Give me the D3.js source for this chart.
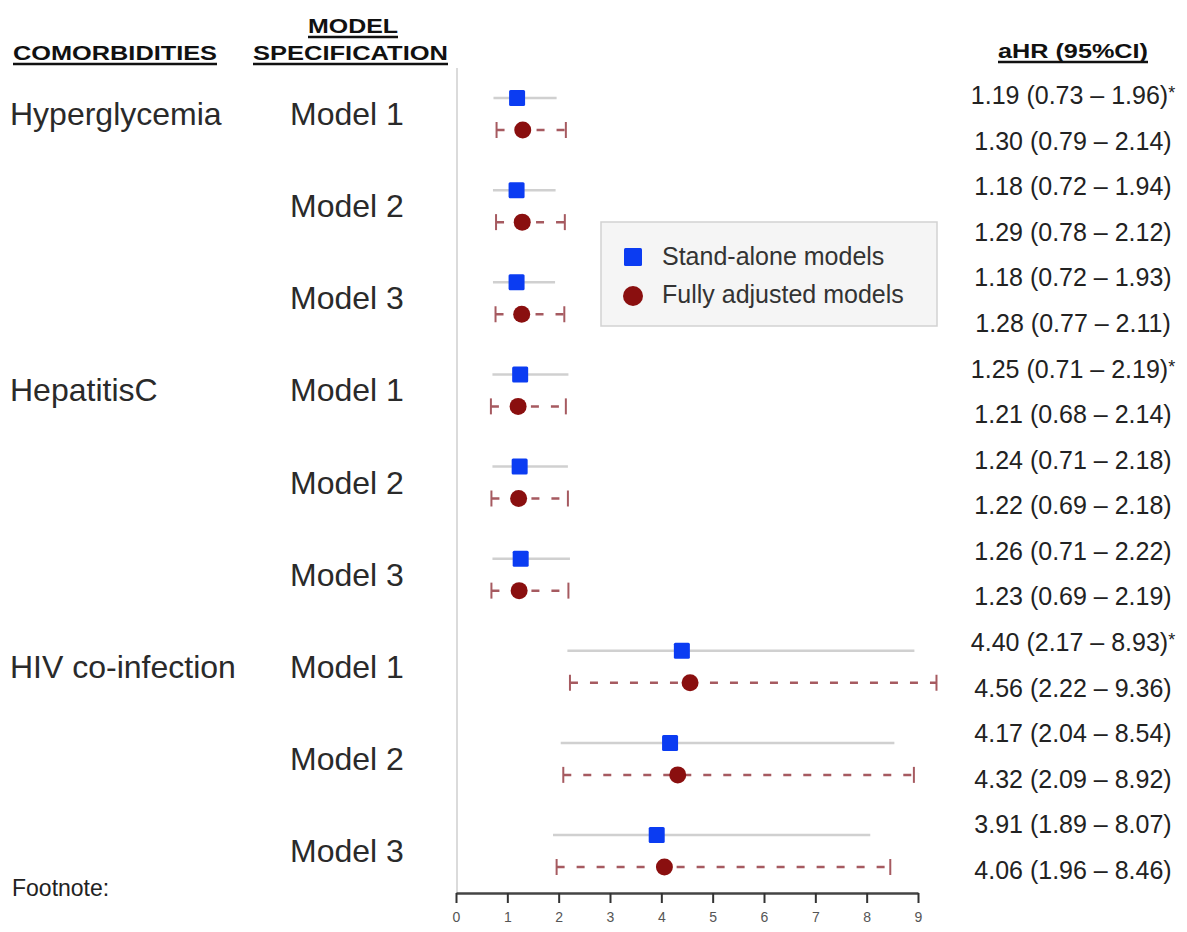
<!DOCTYPE html>
<html>
<head>
<meta charset="utf-8">
<script src="https://cdn.jsdelivr.net/npm/d3@7"></script>
<style>
  body { margin: 0; background: #fff; }
  svg { font-family: "Liberation Sans", Arial, sans-serif; }
</style>
</head>
<body>
<div id="chart"></div>
<script>
// data
var comorbidities = ["Hyperglycemia", "HepatitisC", "HIV co-infection"];
var models = ["Model 1", "Model 2", "Model 3"];

// stand-alone models
var saHR = [1.19, 1.18, 1.18, 1.25, 1.24, 1.26, 4.40, 4.17, 3.91];
var saLo = [0.73, 0.72, 0.72, 0.71, 0.71, 0.71, 2.17, 2.04, 1.89];
var saHi = [1.96, 1.94, 1.93, 2.19, 2.18, 2.22, 8.93, 8.54, 8.07];
var saStar = [true, false, false, true, false, false, true, false, false];

// fully adjusted models
var faHR = [1.30, 1.29, 1.28, 1.21, 1.22, 1.23, 4.56, 4.32, 4.06];
var faLo = [0.79, 0.78, 0.77, 0.68, 0.69, 0.69, 2.22, 2.09, 1.96];
var faHi = [2.14, 2.12, 2.11, 2.14, 2.18, 2.19, 9.36, 8.92, 8.46];

var xTicks = [0, 1, 2, 3, 4, 5, 6, 7, 8, 9];
var legendLabels = ["Stand-alone models", "Fully adjusted models"];

var W = 1187, H = 932;
var blue = "#0b3cf2", red = "#8a0f0f", redLine = "#a65a60", grayLine = "#d0d0d0";

var svg = d3.select("#chart").append("svg")
    .attr("width", W)
    .attr("height", H);

// build rows
var rows = [];
comorbidities.forEach(function (c, ci) {
    models.forEach(function (m, mi) {
        var i = ci * 3 + mi;
        rows.push({ comorb: c, model: m, first: mi === 0, idx: i,
            sa: { hr: saHR[i], lo: saLo[i], hi: saHi[i], star: saStar[i] },
            fa: { hr: faHR[i], lo: faLo[i], hi: faHi[i] } });
    });
});

var x = d3.scaleLinear().domain([0, 9]).range([456, 918]);
var y = d3.scalePoint().domain(d3.range(rows.length)).range([114, 851]);
var off = 16;

// text rows on the right are evenly spaced on their own
var lines = [];
rows.forEach(function (r) {
    lines.push({ v: r.sa, star: r.sa.star });
    lines.push({ v: r.fa, star: false });
});
var yText = d3.scalePoint().domain(d3.range(lines.length)).range([95, 870]);

// headers
function header(txt, xx, yy, len) {
    svg.append("text")
        .attr("x", xx).attr("y", yy)
        .attr("font-size", 21).attr("font-weight", "bold")
        .attr("fill", "#111")
        .attr("textLength", len).attr("lengthAdjust", "spacingAndGlyphs")
        .text(txt);
    svg.append("line")
        .attr("x1", xx).attr("x2", xx + len)
        .attr("y1", yy + 4).attr("y2", yy + 4)
        .attr("stroke", "#111").attr("stroke-width", 2.5);
}
header("COMORBIDITIES", 13, 60, 204);
header("MODEL", 308, 33, 90);
header("SPECIFICATION", 253, 60, 195);
header("aHR (95%CI)", 998, 58, 150);

// vertical reference line
svg.append("line")
    .attr("x1", x(0) + 1).attr("x2", x(0) + 1)
    .attr("y1", 68).attr("y2", 893)
    .attr("stroke", "#cfcfcf").attr("stroke-width", 1.5);

// left labels
svg.selectAll(".comorb")
    .data(rows.filter(function (r) { return r.first; }))
    .enter().append("text")
    .attr("class", "comorb")
    .attr("x", 10)
    .attr("y", function (d) { return y(d.idx) + 11; })
    .attr("font-size", 32).attr("fill", "#2a2a2a")
    .text(function (d) { return d.comorb; });

svg.selectAll(".model")
    .data(rows)
    .enter().append("text")
    .attr("class", "model")
    .attr("x", 290)
    .attr("y", function (d) { return y(d.idx) + 11; })
    .attr("font-size", 32).attr("fill", "#2a2a2a")
    .text(function (d) { return d.model; });

// stand-alone CI lines
svg.selectAll(".saci")
    .data(rows)
    .enter().append("line")
    .attr("class", "saci")
    .attr("x1", function (d) { return x(d.sa.lo); })
    .attr("x2", function (d) { return x(d.sa.hi); })
    .attr("y1", function (d) { return y(d.idx) - off; })
    .attr("y2", function (d) { return y(d.idx) - off; })
    .attr("stroke", grayLine).attr("stroke-width", 2.5);

// fully adjusted CI (dashed with caps)
var fa = svg.selectAll(".faci")
    .data(rows)
    .enter().append("g")
    .attr("class", "faci");
fa.append("line")
    .attr("x1", function (d) { return x(d.fa.lo); })
    .attr("x2", function (d) { return x(d.fa.hi); })
    .attr("y1", function (d) { return y(d.idx) + off; })
    .attr("y2", function (d) { return y(d.idx) + off; })
    .attr("stroke", redLine).attr("stroke-width", 2.5)
    .attr("stroke-dasharray", "8,12");
["lo", "hi"].forEach(function (k) {
    fa.append("line")
        .attr("x1", function (d) { return x(d.fa[k]); })
        .attr("x2", function (d) { return x(d.fa[k]); })
        .attr("y1", function (d) { return y(d.idx) + off - 8; })
        .attr("y2", function (d) { return y(d.idx) + off + 8; })
        .attr("stroke", redLine).attr("stroke-width", 2);
});

// points
svg.selectAll(".sapt")
    .data(rows)
    .enter().append("rect")
    .attr("class", "sapt")
    .attr("x", function (d) { return x(d.sa.hr) - 8; })
    .attr("y", function (d) { return y(d.idx) - off - 8; })
    .attr("width", 16).attr("height", 16)
    .attr("rx", 1.5)
    .attr("fill", blue);

svg.selectAll(".fapt")
    .data(rows)
    .enter().append("circle")
    .attr("class", "fapt")
    .attr("cx", function (d) { return x(d.fa.hr); })
    .attr("cy", function (d) { return y(d.idx) + off; })
    .attr("r", 8.5)
    .attr("fill", red);

// aHR text column
var fmt = d3.format(".2f");
var vt = svg.selectAll(".val")
    .data(lines)
    .enter().append("text")
    .attr("class", "val")
    .attr("x", 1073)
    .attr("y", function (d, i) { return yText(i) + 9; })
    .attr("text-anchor", "middle")
    .attr("font-size", 25).attr("fill", "#222");
vt.append("tspan")
    .text(function (d) { return fmt(d.v.hr) + " (" + fmt(d.v.lo) + " \u2013 " + fmt(d.v.hi) + ")"; });
vt.filter(function (d) { return d.star; })
    .append("tspan")
    .attr("font-size", 18).attr("dy", -5)
    .text("*");

// x axis
var axis = svg.append("g")
    .attr("transform", "translate(0,893)")
    .call(d3.axisBottom(x).tickValues(xTicks).tickSize(10).tickPadding(9).tickSizeOuter(0));
axis.select(".domain").attr("stroke", "#444").attr("stroke-width", 2.5);
axis.selectAll(".tick line").attr("stroke", "#333").attr("stroke-width", 2);
axis.selectAll(".tick text").attr("font-size", 14).attr("fill", "#555")
    .attr("font-family", "Liberation Sans, Arial, sans-serif");

// legend
var lg = svg.append("g").attr("transform", "translate(601,222)");
lg.append("rect")
    .attr("width", 336).attr("height", 104)
    .attr("fill", "#f5f5f5").attr("stroke", "#d2d2d2").attr("stroke-width", 1.5);
lg.append("rect")
    .attr("x", 23).attr("y", 26).attr("width", 18).attr("height", 18)
    .attr("rx", 1.5).attr("fill", blue);
lg.append("circle")
    .attr("cx", 32).attr("cy", 74).attr("r", 10)
    .attr("fill", red);
lg.selectAll(".lgt")
    .data(legendLabels)
    .enter().append("text")
    .attr("class", "lgt")
    .attr("x", 61)
    .attr("y", function (d, i) { return 43 + i * 38; })
    .attr("font-size", 25).attr("fill", "#333")
    .text(function (d) { return d; });

// footnote
svg.append("text")
    .attr("x", 12).attr("y", 896)
    .attr("font-size", 23).attr("fill", "#222")
    .text("Footnote:");
</script>
</body>
</html>
